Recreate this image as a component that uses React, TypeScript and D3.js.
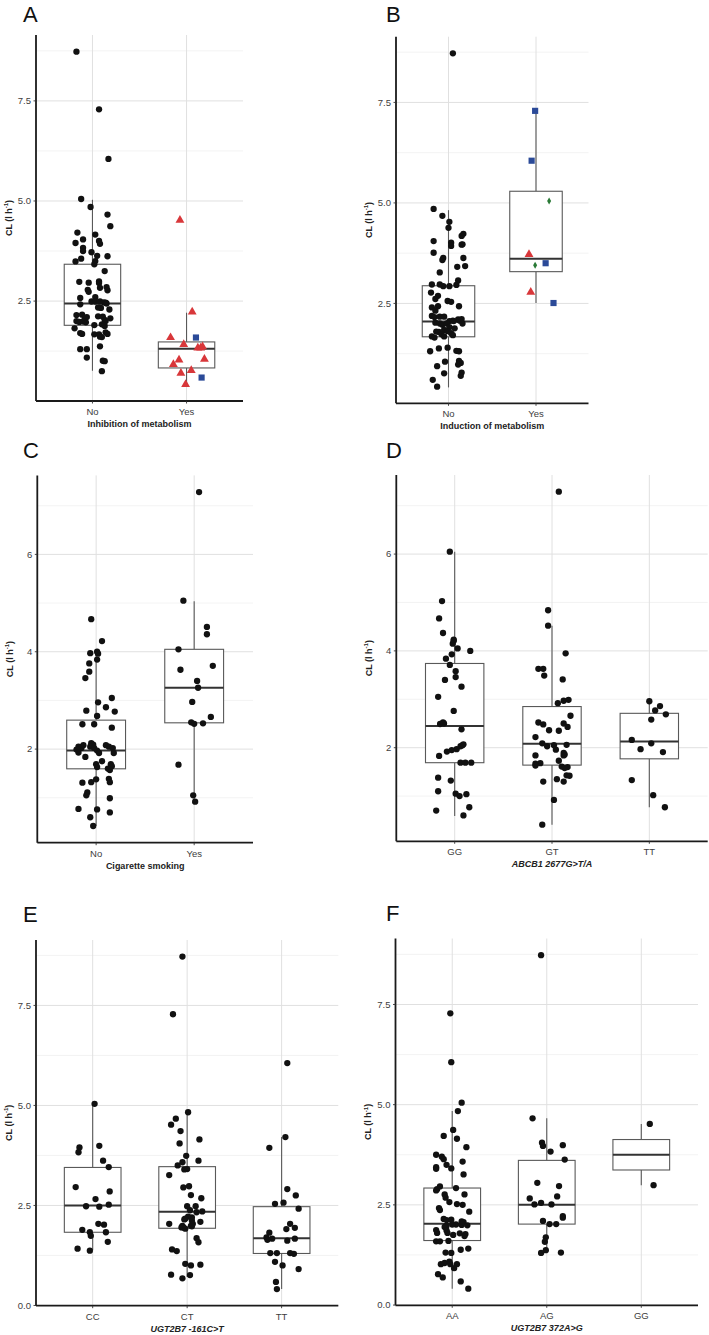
import * as d3 from "d3";

// [value, jitter as % of category step]
type Pt = [number, number];
// [value, jitter, shape]
type SPt = [number, number, string];
// [lower whisker, q1, median, q3, upper whisker]
type Box = [number, number, number, number, number];

const inhibCats = ["No", "Yes"];
const inhibNo: Pt[] = [
  [8.73, -17], [7.29, 7], [6.05, 17], [5.05, -12], [4.85, -2], [4.66, 16], [4.37, 19], [4.21, -16],
  [4.16, 3], [4.04, -10], [3.95, -18], [4.0, 7], [3.93, 8], [3.83, -10], [3.75, -10], [3.72, -1],
  [3.63, 5], [3.62, 16], [3.56, -12], [3.49, -18], [3.5, 3], [3.42, 2], [3.25, 13], [2.98, -14],
  [2.96, -4], [2.99, 7], [2.95, 7], [2.85, 15], [2.77, 16], [2.78, -5], [2.73, -4], [2.83, 8],
  [2.58, -13], [2.6, 3], [2.42, -13], [2.49, -1], [2.49, 3], [2.49, 8], [2.47, 12], [2.46, 14],
  [2.44, 15], [2.29, 18], [2.34, 6], [2.33, 9], [2.15, -17], [2.16, -11], [2.08, -8], [2.1, -6],
  [2.12, 6], [2.11, 11], [2.03, 13], [2.0, 14], [2.07, 19], [2.0, -17], [1.98, -14], [1.99, -10],
  [1.97, -7], [1.9, 2], [1.92, 10], [1.88, 13], [1.82, -19], [1.7, -13], [1.68, -11], [1.67, 2],
  [1.67, 7], [1.72, 14], [1.68, 16], [1.61, 8], [1.6, 10], [1.3, -13], [1.3, -6], [1.37, 8],
  [1.09, -6], [1.01, 11], [1.0, 13], [0.75, 10],
];
const inhibYes: SPt[] = [
  [4.52, -7, "triangle"], [2.23, 6, "triangle"], [1.59, -17, "triangle"], [1.59, 10, "square"],
  [1.42, -3, "triangle"], [1.33, 12, "triangle"], [1.33, 15, "triangle"], [1.36, 17, "triangle"],
  [1.03, -8, "triangle"], [1.05, 19, "triangle"], [0.92, -14, "triangle"], [0.77, 5, "triangle"],
  [0.7, -6, "triangle"], [0.59, 16, "square"], [0.42, -1, "triangle"],
];
const inhibBoxes: Box[] = [
  [0.76, 1.895, 2.44, 3.42, 5.03],
  [0.41, 0.83, 1.31, 1.48, 2.21],
];

const inducCats = ["No", "Yes"];
const inducNo: Pt[] = [
  [8.72, 5], [4.85, -17], [4.68, -7], [4.53, 1], [4.38, 0], [4.23, 17], [4.18, 15], [4.05, -17],
  [4.01, 3], [3.93, 3], [3.96, 15], [3.97, 16], [3.76, -17], [3.63, -6], [3.58, -7], [3.63, 17],
  [3.41, 10], [3.43, 19], [3.27, -10], [3.07, 11], [2.97, -19], [2.97, -10], [2.93, -6], [2.93, 1],
  [2.96, 9], [2.77, -20], [2.69, -12], [2.61, -15], [2.56, -1], [2.54, 3], [2.43, -12], [2.4, -19],
  [2.43, 12], [2.32, -15], [2.19, -19], [2.16, -16], [2.17, -10], [2.17, -5], [2.1, 11], [2.07, 13],
  [2.11, 15], [2.07, 5], [2.06, 1], [2.02, -15], [2.0, -10], [1.97, -7], [2.0, -2], [1.91, 1],
  [2.06, 6], [2.0, 16], [1.88, 7], [1.84, -5], [1.81, -1], [1.76, 3], [1.71, 5], [1.8, -14],
  [1.79, -11], [1.68, -19], [1.65, -16], [1.73, -8], [1.68, -5], [1.38, -11], [1.31, -21], [1.4, -1],
  [1.32, 9], [1.31, 12], [1.05, -4], [1.07, 12], [1.02, 14], [0.98, 11], [0.94, -13], [0.76, -5],
  [0.78, 15], [0.7, 14], [0.6, -18], [0.43, -13],
];
const inducYes: SPt[] = [
  [7.29, -1, "square"], [6.05, -5, "square"], [5.05, 15, "diamond"], [3.72, -8, "triangle"],
  [3.45, -1, "diamond"], [3.5, 11, "square"], [2.78, -6, "triangle"], [2.51, 20, "square"],
];
const inducBoxes: Box[] = [
  [0.41, 1.67, 2.05, 2.94, 4.82],
  [2.51, 3.29, 3.61, 5.29, 7.29],
];

const smokeCats = ["No", "Yes"];
const smokeNo: Pt[] = [
  [4.67, -5], [4.22, 6], [3.97, -6], [4.0, 1], [3.96, 2], [3.84, 1], [3.76, -7], [3.59, -7],
  [3.46, -11], [2.96, 2], [3.05, 16], [2.79, -10], [2.86, 10], [2.77, 19], [2.68, 1], [2.51, -14],
  [2.51, -2], [2.44, 16], [2.12, -5], [2.09, -3], [2.05, -6], [2.05, -18], [2.04, -16], [2.02, -15],
  [2.08, -13], [1.99, -20], [1.93, -18], [1.84, -11], [2.02, -2], [1.97, 1], [1.92, 3], [2.08, 10],
  [2.05, 13], [2.02, 17], [1.92, 18], [1.75, 6], [1.69, 0], [1.63, 1], [1.69, 15], [1.65, 16],
  [1.6, 12], [1.57, 14], [1.31, -14], [1.32, -5], [1.38, 0], [1.39, 13], [1.32, 14], [1.11, -9],
  [1.05, -10], [0.99, 14], [0.77, -18], [0.76, 1], [0.7, 14], [0.6, -6], [0.42, -3],
];
const smokeYes: Pt[] = [
  [7.28, 5], [5.05, -11], [4.51, 13], [4.36, 13], [4.05, -16], [3.63, -14], [3.71, 19], [3.4, 3],
  [3.26, 4], [2.97, -2], [2.66, 17], [2.55, -3], [2.52, 0], [2.53, 9], [1.68, -16], [1.05, -1],
  [0.92, 1],
];
const smokeBoxes: Box[] = [
  [0.42, 1.595, 1.97, 2.595, 3.95],
  [0.92, 2.54, 3.26, 4.05, 5.04],
];

const abcbCats = ["GG", "GT", "TT"];
const abcbGG: Pt[] = [
  [6.05, -5], [5.03, -13], [4.67, -16], [4.37, -12], [4.23, -1], [4.21, -1], [4.15, -2], [4.05, 3],
  [4.0, 16], [3.93, -3], [3.84, -9], [3.71, -5], [3.58, 1], [3.46, 1], [3.4, -10], [3.26, 7],
  [3.05, -17], [2.76, -1], [2.49, -15], [2.52, -12], [2.5, -11], [2.38, 7], [2.05, 8], [2.03, 6],
  [2.07, 9], [1.97, 2], [1.95, -3], [1.92, -8], [1.83, -16], [1.69, 6], [1.69, 11], [1.69, 17],
  [1.38, -17], [1.32, -4], [1.1, -17], [1.05, 1], [1.0, 5], [1.04, 12], [0.77, 15], [0.7, -19],
  [0.6, 9],
];
const abcbGT: Pt[] = [
  [7.29, 7], [4.84, -4], [4.52, -4], [3.95, 14], [3.63, -14], [3.63, -9], [3.49, -8], [3.41, 11],
  [2.92, 6], [2.97, 12], [2.99, 17], [2.66, 19], [2.52, -14], [2.48, -9], [2.36, -3], [2.35, 7],
  [2.5, 12], [2.43, 16], [2.22, -17], [2.09, -10], [2.03, -5], [1.96, 4], [2.05, 2], [2.06, 15],
  [1.84, -17], [1.89, 12], [1.84, 12], [1.86, 13], [1.73, 7], [1.68, -12], [1.67, -17], [1.63, -17],
  [1.61, 10], [1.6, 16], [1.58, 13], [1.43, 15], [1.42, 18], [1.3, -9], [1.35, 5], [1.3, 12],
  [0.92, 2], [0.41, -10],
];
const abcbTT: Pt[] = [
  [2.96, 0], [2.86, 11], [2.77, 6], [2.69, 17], [2.58, 2], [2.16, -18], [2.09, 2], [1.97, -9],
  [1.91, 14], [1.33, -18], [1.02, 4], [0.77, 16],
];
const abcbBoxes: Box[] = [
  [0.59, 1.69, 2.45, 3.74, 6.05],
  [0.41, 1.64, 2.08, 2.85, 4.52],
  [0.77, 1.77, 2.13, 2.71, 2.91],
];

const ugt161Cats = ["CC", "CT", "TT"];
const ugt161CC: Pt[] = [
  [5.04, 2], [3.95, -14], [3.83, -15], [3.99, 7], [3.62, 11], [3.46, 17], [2.96, -18], [2.85, 18],
  [2.66, 3], [2.48, -7], [2.47, 7], [2.52, 17], [2.04, 6], [2.02, 12], [1.89, -11], [1.83, -3],
  [1.74, -2], [1.83, 14], [1.59, 16], [1.42, -16], [1.37, -3],
];
const ugt161CT: Pt[] = [
  [8.72, -5], [7.28, -15], [4.83, 1], [4.67, -12], [4.52, -17], [4.36, -7], [4.15, 13], [4.05, -8],
  [3.74, -1], [3.62, 12], [3.58, -5], [3.5, -10], [3.4, -3], [3.41, 0], [3.26, -19], [2.95, -4],
  [2.98, 2], [2.76, 4], [2.68, 15], [2.48, 0], [2.48, 9], [2.38, 3], [2.33, 10], [2.35, 16],
  [2.22, 1], [2.2, 5], [2.17, -2], [2.09, 14], [2.12, 5], [2.15, -3], [2.04, -19], [1.99, -5],
  [1.99, 4], [2.04, 6], [1.95, -4], [1.95, -6], [1.92, -2], [1.98, 5], [1.68, 10], [1.58, 12],
  [1.4, -16], [1.36, -11], [1.04, -2], [1.0, 4], [1.02, 14], [0.77, -17], [0.76, 3], [0.68, -5],
];
const ugt161TT: Pt[] = [
  [6.06, 6], [4.21, 4], [3.94, -13], [2.91, 6], [2.75, 15], [2.57, 2], [2.54, -7], [2.42, 18],
  [2.04, 9], [1.94, 14], [1.91, 5], [1.82, -13], [1.7, -16], [1.64, -15], [1.67, -10], [1.62, 6],
  [1.67, 14], [1.31, -12], [1.31, -5], [1.31, 9], [1.29, 13], [1.09, -7], [1.0, 1], [0.91, 18],
  [0.59, -6], [0.41, -5],
];
const ugt161Boxes: Box[] = [
  [1.38, 1.83, 2.5, 3.45, 5.04],
  [0.71, 1.93, 2.34, 3.47, 4.84],
  [0.41, 1.3, 1.68, 2.47, 4.21],
];

const ugt372Cats = ["AA", "AG", "GG"];
const ugt372AA: Pt[] = [
  [7.28, -2], [6.06, -1], [5.05, 10], [4.84, 6], [4.37, 1], [4.22, -9], [4.15, 5], [3.94, 15],
  [3.75, -17], [3.7, -11], [3.64, -9], [3.58, 11], [3.44, -17], [3.4, -17], [3.5, -6], [3.41, -1],
  [3.26, 12], [2.96, -13], [2.89, -16], [2.86, -17], [2.92, 4], [2.76, 13], [2.76, -8], [2.68, -7],
  [2.57, -3], [2.52, 5], [2.5, 11], [2.42, -14], [2.37, -13], [2.33, 18], [2.15, -9], [2.12, -6],
  [2.13, -1], [2.01, 4], [2.0, 10], [2.01, 0], [2.09, 10], [2.07, 12], [1.99, 16], [1.98, -6],
  [1.95, -8], [1.87, -17], [1.8, -16], [1.86, -6], [1.8, -5], [1.75, 1], [1.79, 8], [1.77, 14],
  [1.72, 13], [1.59, -17], [1.59, -13], [1.6, -4], [1.38, 9], [1.41, 17], [1.31, -7], [1.3, -1],
  [1.02, -12], [1.05, -8], [1.08, -3], [1.02, -2], [1.02, 5], [0.77, -15], [0.69, -10], [0.92, 2],
  [0.59, 9], [0.41, 17],
];
const ugt372AG: Pt[] = [
  [8.73, -6], [4.66, -15], [4.05, -5], [3.97, -4], [3.99, 17], [3.83, 4], [3.63, 19], [3.05, -10],
  [2.97, 13], [2.71, 11], [2.66, -18], [2.55, -6], [2.51, -13], [2.51, 5], [2.22, 17], [2.18, 17],
  [2.1, -4], [2.02, 3], [2.02, 10], [1.69, -1], [1.58, -2], [1.37, -1], [1.3, -6], [1.31, 15],
];
const ugt372GG: Pt[] = [[4.52, 9], [2.99, 13]];
const ugt372Boxes: Box[] = [
  [0.41, 1.61, 2.03, 2.92, 4.84],
  [1.31, 2.02, 2.5, 3.61, 4.66],
  [2.99, 3.37, 3.75, 4.13, 4.52],
];

const ticksHalf = [0, 2.5, 5, 7.5];
const minorHalf = [1.25, 3.75, 6.25, 8.75];
const ticksInt = [2, 4, 6];
const minorInt = [1, 3, 5, 7];

const circ = (arr: Pt[]): SPt[] => arr.map(([v, j]) => [v, j, "circle"]);

interface Rect { l: number; r: number; t: number; b: number; lx: number; ly: number }
interface PanelSpec {
  letter: string;
  title: string;
  italic: boolean;
  cats: string[];
  groups: SPt[][];
  boxes: Box[];
  ticks: number[];
  minor: number[];
  fmt: string;
  rect: Rect;
}

const panels: PanelSpec[] = [
  {
    letter: "A", title: "Inhibition of metabolism", italic: false, cats: inhibCats,
    groups: [circ(inhibNo), inhibYes], boxes: inhibBoxes, ticks: ticksHalf, minor: minorHalf, fmt: ".1f",
    rect: { l: 36, r: 243, t: 35, b: 401, lx: 23, ly: 22 },
  },
  {
    letter: "B", title: "Induction of metabolism", italic: false, cats: inducCats,
    groups: [circ(inducNo), inducYes], boxes: inducBoxes, ticks: ticksHalf, minor: minorHalf, fmt: ".1f",
    rect: { l: 396, r: 588.5, t: 36.7, b: 403.3, lx: 386, ly: 22 },
  },
  {
    letter: "C", title: "Cigarette smoking", italic: false, cats: smokeCats,
    groups: [circ(smokeNo), circ(smokeYes)], boxes: smokeBoxes, ticks: ticksInt, minor: minorInt, fmt: "d",
    rect: { l: 37.3, r: 253, t: 475.4, b: 842.7, lx: 23, ly: 458 },
  },
  {
    letter: "D", title: "ABCB1 2677G>T/A", italic: true, cats: abcbCats,
    groups: [circ(abcbGG), circ(abcbGT), circ(abcbTT)], boxes: abcbBoxes, ticks: ticksInt, minor: minorInt, fmt: "d",
    rect: { l: 396.3, r: 707.7, t: 475, b: 841.3, lx: 386, ly: 458 },
  },
  {
    letter: "E", title: "UGT2B7 -161C>T", italic: true, cats: ugt161Cats,
    groups: [circ(ugt161CC), circ(ugt161CT), circ(ugt161TT)], boxes: ugt161Boxes, ticks: ticksHalf, minor: minorHalf, fmt: ".1f",
    rect: { l: 36, r: 338.3, t: 940, b: 1305.7, lx: 23, ly: 922 },
  },
  {
    letter: "F", title: "UGT2B7 372A>G", italic: true, cats: ugt372Cats,
    groups: [circ(ugt372AA), circ(ugt372AG), circ(ugt372GG)], boxes: ugt372Boxes, ticks: ticksHalf, minor: minorHalf, fmt: ".1f",
    rect: { l: 395.5, r: 698, t: 938.5, b: 1305.3, lx: 386, ly: 921 },
  },
];

const FONT = "'Liberation Sans', Arial, Helvetica, sans-serif";
const shapeColor: Record<string, string> = {
  circle: "#111",
  triangle: "#d8373a",
  square: "#2b4a98",
  diamond: "#2a7a36",
};
const symbolPath: Record<string, string> = {
  triangle: d3.symbol().type(d3.symbolTriangle).size(34)() ?? "",
  square: d3.symbol().type(d3.symbolSquare).size(38)() ?? "",
  diamond: d3.symbol().type(d3.symbolDiamond).size(14)() ?? "",
};

function Panel({ spec }: { spec: PanelSpec }) {
  const { l, r, t, b, lx, ly } = spec.rect;
  const vals = spec.groups.flat().map((p) => p[0]);
  const [lo, hi] = d3.extent(vals) as [number, number];
  const pad = (hi - lo) * 0.05;
  const y = d3.scaleLinear().domain([lo - pad, hi + pad]).range([b, t]);
  const x = d3.scalePoint<string>().domain(spec.cats).range([l, r]).padding(0.6);
  const step = x.step();
  const bw = step * 0.6;
  const fmt = d3.format(spec.fmt);
  const inDom = (v: number) => v >= y.domain()[0] && v <= y.domain()[1];
  const midY = (t + b) / 2;

  return (
    <g>
      <text x={lx} y={ly} fontSize={22} fontFamily={FONT} fill="#111">{spec.letter}</text>
      {/* grid */}
      {spec.minor.filter(inDom).map((v) => (
        <line key={"m" + v} x1={l} x2={r} y1={y(v)} y2={y(v)} stroke="#f0f0f0" strokeWidth={0.8} />
      ))}
      {spec.ticks.filter(inDom).map((v) => (
        <line key={"g" + v} x1={l} x2={r} y1={y(v)} y2={y(v)} stroke="#e0e0e0" strokeWidth={1} />
      ))}
      {spec.cats.map((c) => (
        <line key={"v" + c} x1={x(c)} x2={x(c)} y1={t} y2={b} stroke="#e0e0e0" strokeWidth={1} />
      ))}
      {/* boxes */}
      {spec.boxes.map(([w0, q1, md, q3, w1], i) => {
        const cx = x(spec.cats[i]) as number;
        return (
          <g key={"b" + i}>
            <line x1={cx} x2={cx} y1={y(q3)} y2={y(w1)} stroke="#595959" strokeWidth={1.1} />
            <line x1={cx} x2={cx} y1={y(q1)} y2={y(w0)} stroke="#595959" strokeWidth={1.1} />
            <rect x={cx - bw / 2} y={y(q3)} width={bw} height={y(q1) - y(q3)} fill="#fff" stroke="#595959" strokeWidth={1.1} />
            <line x1={cx - bw / 2} x2={cx + bw / 2} y1={y(md)} y2={y(md)} stroke="#333" strokeWidth={2} />
          </g>
        );
      })}
      {/* points */}
      {spec.groups.map((g, i) =>
        g.map(([v, j, s], k) => {
          const px = (x(spec.cats[i]) as number) + (j / 100) * step;
          const py = y(v);
          if (s === "circle")
            return <circle key={i + "-" + k} cx={px} cy={py} r={3.15} fill={shapeColor.circle} />;
          return (
            <path key={i + "-" + k} d={symbolPath[s]} transform={`translate(${px},${py})`} fill={shapeColor[s]} />
          );
        })
      )}
      {/* axes */}
      <line x1={l} x2={l} y1={t} y2={b} stroke="#1a1a1a" strokeWidth={1.8} />
      <line x1={l} x2={r} y1={b} y2={b} stroke="#1a1a1a" strokeWidth={1.8} />
      {spec.ticks.filter(inDom).map((v) => (
        <g key={"t" + v}>
          <line x1={l - 2.5} x2={l} y1={y(v)} y2={y(v)} stroke="#333" strokeWidth={0.9} />
          <text x={l - 5} y={y(v) + 3.3} textAnchor="end" fontSize={9.5} fontFamily={FONT} fill="#3d3d3d">
            {fmt(v)}
          </text>
        </g>
      ))}
      {spec.cats.map((c) => (
        <g key={"x" + c}>
          <line x1={x(c)} x2={x(c)} y1={b} y2={b + 2.5} stroke="#333" strokeWidth={0.9} />
          <text x={x(c)} y={b + 13.8} textAnchor="middle" fontSize={9.5} fontFamily={FONT} fill="#3d3d3d">
            {c}
          </text>
        </g>
      ))}
      <text
        x={(l + r) / 2}
        y={b + 25.8}
        textAnchor="middle"
        fontSize={9}
        fontWeight="bold"
        fontStyle={spec.italic ? "italic" : "normal"}
        fontFamily={FONT}
        fill="#222"
      >
        {spec.title}
      </text>
      <text
        transform={`translate(${l - 24.5},${midY}) rotate(-90)`}
        textAnchor="middle"
        fontSize={9}
        fontWeight="bold"
        fontFamily={FONT}
        fill="#222"
      >
        CL (l h
        <tspan fontSize={6} dy={-3.5}>-1</tspan>
        <tspan dy={3.5}>)</tspan>
      </text>
    </g>
  );
}

export default function App() {
  return (
    <svg
      width={709}
      height={1335}
      viewBox="0 0 709 1335"
      style={{ position: "absolute", left: 0, top: 0, background: "#fff" }}
    >
      <rect width={709} height={1335} fill="#fff" />
      {panels.map((p) => (
        <Panel key={p.letter} spec={p} />
      ))}
    </svg>
  );
}
